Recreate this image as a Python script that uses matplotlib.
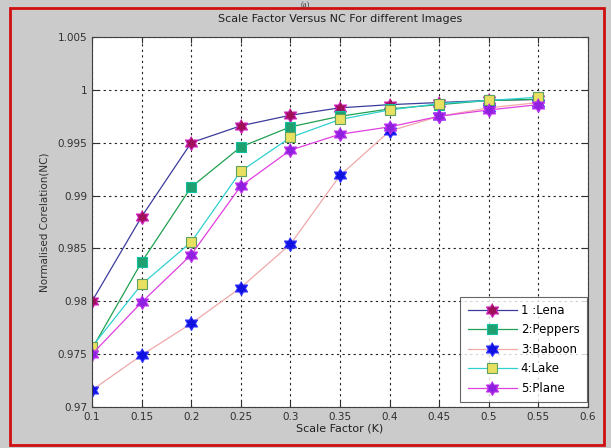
import numpy as np
import matplotlib.pyplot as plt
from matplotlib.patches import Rectangle

# Scale factor K
scale = [0.1, 0.15, 0.2, 0.25, 0.3, 0.35, 0.4, 0.45, 0.5, 0.55]

# Normalised correlation for each image
lena    = [0.9800, 0.9880, 0.9950, 0.9966, 0.9976, 0.9983, 0.9986, 0.9988, 0.9990, 0.9991]
peppers = [0.9755, 0.9837, 0.9908, 0.9946, 0.9965, 0.9975, 0.9982, 0.9986, 0.9990, 0.9991]
baboon  = [0.9716, 0.9749, 0.9779, 0.9813, 0.9854, 0.9919, 0.9961, 0.9975, 0.9983, 0.9988]
lake    = [0.9757, 0.9816, 0.9856, 0.9923, 0.9955, 0.9972, 0.9981, 0.9987, 0.9990, 0.9993]
plane   = [0.9750, 0.9799, 0.9844, 0.9909, 0.9943, 0.9958, 0.9965, 0.9975, 0.9981, 0.9986]

labels = ['1 :Lena', '2:Peppers', '3:Baboon', '4:Lake', '5:Plane']

# MATLAB-like filled hexagram
ang = np.pi / 2 + np.arange(12) * np.pi / 6
rad = np.where(np.arange(12) % 2 == 0, 1.0, 1 / np.sqrt(3))
hexagram = list(zip(rad * np.cos(ang), rad * np.sin(ang)))

# line colour, marker, size, face colour, edge colour
styles = [
    ('#3c3c9c', hexagram, 10, '#a0105a', '#d020c0'),
    ('#20a050', 's', 6.5, '#20a070', '#10c0a0'),
    ('#f0a8a8', hexagram, 10, '#1010e0', '#3030ff'),
    ('#30d0d0', 's', 6.5, '#e8e060', '#60a060'),
    ('#e040e0', hexagram, 10, '#9020e0', '#c030f0'),
]

plt.rcParams['font.family'] = 'DejaVu Sans'

fig = plt.figure(figsize=(6.11, 4.48), dpi=100)
fig.patch.set_facecolor('#cbcbcb')

# red frame around the figure
fig.patches.append(Rectangle((10 / 611, 3 / 448), 594 / 611, 437 / 448,
                             transform=fig.transFigure, fill=False,
                             edgecolor='#d01010', linewidth=2))
fig.text(0.5, 0.998, '(a)', ha='center', va='top', fontsize=6,
         family='Liberation Serif', color='#404040')

ax = fig.add_axes([92 / 611, 41 / 448, 496 / 611, 370 / 448])
ax.set_facecolor('white')

series = [lena, peppers, baboon, lake, plane]
for vals, lab, (lc, mk, ms, fc, ec) in zip(series, labels, styles):
    ax.plot(scale, vals, color=lc, linewidth=0.9, marker=mk, markersize=ms,
            markerfacecolor=fc, markeredgecolor=ec, markeredgewidth=0.8,
            label=lab)

ax.set_xlim(0.1, 0.6)
ax.set_ylim(0.97, 1.005)
ax.set_xticks(np.arange(0.1, 0.61, 0.05))
ax.set_xticklabels(['0.1', '0.15', '0.2', '0.25', '0.3', '0.35', '0.4',
                    '0.45', '0.5', '0.55', '0.6'])
ax.set_yticks(np.arange(0.97, 1.0051, 0.005))
ax.set_yticklabels(['0.97', '0.975', '0.98', '0.985', '0.99', '0.995', '1', '1.005'])
ax.tick_params(direction='in', labelsize=7.5, colors='#303030', length=4,
               top=True, right=True, labeltop=False, labelright=False)
ax.grid(True, color='#202020', linestyle=(0, (2, 3)), linewidth=0.8)

for s in ax.spines.values():
    s.set_color('#404040')

ax.set_title('Scale Factor Versus NC For different Images', fontsize=8,
             color='#202020', pad=11)
ax.set_xlabel('Scale Factor (K)', fontsize=8, color='#202020', labelpad=1)
ax.set_ylabel('Normalised Corelation(NC)', fontsize=7.5, color='#303030', labelpad=6)

leg = ax.legend(loc='lower right', fontsize=8.5, frameon=True, fancybox=False,
                edgecolor='#404040', handlelength=4.2, labelspacing=0.55,
                borderpad=0.6, handletextpad=0.3, borderaxespad=0,
                bbox_to_anchor=(0.997, 0.014))
leg.get_frame().set_linewidth(0.8)

fig.savefig('out.png', dpi=100, facecolor=fig.get_facecolor())
